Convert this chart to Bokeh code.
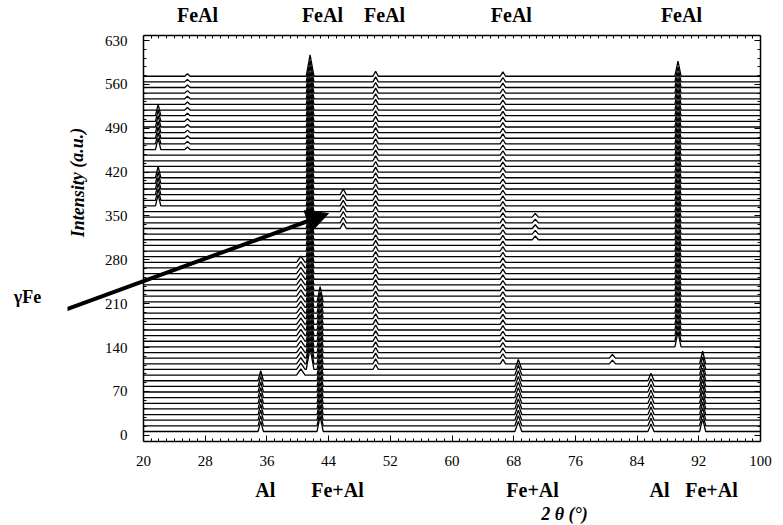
from bokeh.plotting import figure
from bokeh.models import Range1d, LinearAxis, FixedTicker, Label, Arrow, NormalHead
from bokeh.embed import file_html
from bokeh.resources import INLINE

# ---------------- data ----------------
x_ticks = [20, 28, 36, 44, 52, 60, 68, 76, 84, 92, 100]
y_ticks = [0, 70, 140, 210, 280, 350, 420, 490, 560, 630]

n_traces = 64          # number of stacked patterns
first_baseline = 6     # intensity offset of the lowest pattern
trace_step = 9         # intensity offset between consecutive patterns

# reflections (2theta, height above baseline, half width, first/last pattern index)
peak_pos       = [35.2, 42.9, 68.6, 85.8, 92.5, 41.6, 40.4, 50.1, 66.6, 89.3, 21.9, 21.9, 25.7, 45.9, 70.8, 80.8]
peak_height    = [16,   24,   16,   12,   20,   34,   10,   8,    7,    24,   18,   18,   4,    9,    6,    6]
peak_halfwidth = [0.35, 0.40, 0.45, 0.40, 0.40, 0.50, 0.55, 0.35, 0.35, 0.40, 0.35, 0.35, 0.35, 0.40, 0.40, 0.40]
peak_first     = [0,    0,    0,    0,    0,    11,   10,   11,   12,   15,   40,   50,   50,   36,   34,   12]
peak_last      = [9,    23,   11,   9,    12,   63,   30,   63,   63,   63,   45,   56,   63,   42,   38,   13]

# phase labels along the top and bottom (2theta positions)
top_label_pos = [27.0, 43.2, 51.25, 67.7, 89.75]
top_label_text = ["FeAl", "FeAl", "FeAl", "FeAl", "FeAl"]
bottom_label_pos = [35.8, 45.15, 70.45, 86.9, 93.65]
bottom_label_text = ["Al", "Fe+Al", "Fe+Al", "Al", "Fe+Al"]

# ---------------- build patterns ----------------
xs, ys = [], []
for i in range(n_traces):
    base = first_baseline + trace_step * i
    peaks = sorted(
        (peak_pos[k], peak_height[k], peak_halfwidth[k])
        for k in range(len(peak_pos))
        if peak_first[k] <= i <= peak_last[k]
    )
    tx, ty = [20.0], [base]
    for c, h, w in peaks:
        tx += [c - w, c, c + w]
        ty += [base, base + h, base]
    tx.append(100.0)
    ty.append(base)
    xs.append(tx)
    ys.append(ty)

# frame spans canvas x 67..760 so that 20..100 maps to 143..760
PX_PER_UNIT = 617 / 80
x_start = 20 - (143 - 67) / PX_PER_UNIT
Y_MIN, Y_MAX = -10, 638

p = figure(width=783, height=525, output_backend="svg", toolbar_location=None,
           x_range=Range1d(x_start, 100), y_range=Range1d(Y_MIN, Y_MAX),
           min_border_left=67, min_border_right=23, min_border_top=35, min_border_bottom=84)
p.background_fill_color = "white"
p.border_fill_color = "white"
p.grid.visible = False
p.outline_line_color = None

p.multi_line(xs, ys, line_color="black", line_width=1.3)

font = "Liberation Serif"
minor_x = list(range(20, 101))
minor_y = list(range(0, 631, 14))

def style_axis(ax, label_size="15px", label_style="normal"):
    ax.axis_line_color = "black"
    ax.axis_line_width = 1.5
    ax.major_tick_in = 6
    ax.major_tick_out = 0
    ax.minor_tick_in = 3
    ax.minor_tick_out = 0
    ax.major_tick_line_color = "black"
    ax.minor_tick_line_color = "black"
    ax.major_label_text_font = font
    ax.major_label_text_color = "black"
    ax.major_label_text_font_size = label_size
    ax.major_label_text_font_style = label_style

# bottom axis
xa = p.xaxis[0]
xa.ticker = FixedTicker(ticks=x_ticks, minor_ticks=minor_x)
style_axis(xa)
xa.bounds = (20, 100)
xa.major_label_standoff = 14

# left axis, placed at 2theta = 20
ya = p.yaxis[0]
ya.ticker = FixedTicker(ticks=y_ticks, minor_ticks=minor_y)
style_axis(ya)
ya.bounds = (Y_MIN, Y_MAX)
ya.fixed_location = 20
ya.major_label_standoff = 16

# second bottom axis carrying the phase labels
xb = LinearAxis(ticker=FixedTicker(ticks=bottom_label_pos))
style_axis(xb, "20px", "bold")
xb.axis_line_color = None
xb.major_tick_line_color = None
xb.minor_tick_line_color = None
xb.major_label_standoff = 10
xb.major_label_overrides = dict(zip(bottom_label_pos, bottom_label_text))
p.add_layout(xb, "below")

# top axis: frame edge, minor ticks and phase labels
xt = LinearAxis(ticker=FixedTicker(ticks=top_label_pos, minor_ticks=minor_x))
style_axis(xt, "20px", "bold")
xt.bounds = (20, 100)
xt.major_tick_in = 0
xt.major_label_standoff = 10
xt.major_label_overrides = dict(zip(top_label_pos, top_label_text))
p.add_layout(xt, "above")

# right axis: frame edge with ticks only
yr = LinearAxis(ticker=FixedTicker(ticks=y_ticks, minor_ticks=minor_y))
style_axis(yr)
yr.bounds = (Y_MIN, Y_MAX)
yr.major_label_standoff = 0
yr.major_label_overrides = {t: "" for t in y_ticks}
p.add_layout(yr, "right")

def canvas_label(x, y, text, size, style="bold", angle=0.0):
    return Label(x=x, y=y, x_units="canvas", y_units="canvas", text=text, angle=angle,
                 text_align="center", text_baseline="middle", text_font=font,
                 text_font_style=style, text_font_size=size, text_color="black")

p.add_layout(canvas_label(564, 513, "2 θ (°)", "18px", "bold italic"), "below")
p.add_layout(canvas_label(27, 296, "γFe", "18px"), "left")
p.add_layout(canvas_label(77, 182, "Intensity (a.u.)", "18px", "bold italic", 1.5708))

p.add_layout(Arrow(x_start=52, y_start=314, x_end=328, y_end=213,
                   start_units="canvas", end_units="canvas", line_width=4, line_color="black",
                   end=NormalHead(size=22, fill_color="black", line_color="black")))

open("out.html", "w").write(file_html(p, INLINE))
